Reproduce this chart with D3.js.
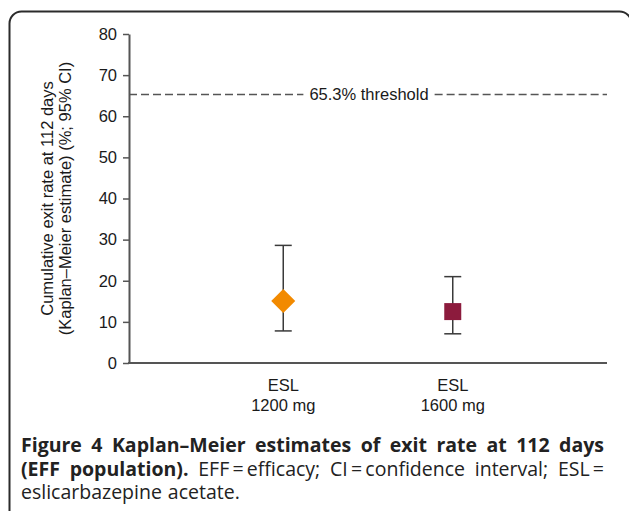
<!DOCTYPE html>
<html>
<head>
<meta charset="utf-8">
<script src="https://cdn.jsdelivr.net/npm/d3@7"></script>
<style>
  body { margin: 0; background: #fff; }
  svg { display: block; }
</style>
</head>
<body>
<script>

// data
var groups = ["ESL 1200 mg", "ESL 1600 mg"];
var groupLines = [["ESL", "1200 mg"], ["ESL", "1600 mg"]];
var estimates = [15.1, 12.5];
var lowerCI = [7.8, 7.1];
var upperCI = [28.6, 21.0];
var markerShapes = ["diamond", "square"];
var markerColors = ["#f28a00", "#8c1b3d"];
var yTicks = [0, 10, 20, 30, 40, 50, 60, 70, 80];
var threshold = 65.3;
var thresholdLabel = "65.3% threshold";
var yTitle = ["Cumulative exit rate at 112 days", "(Kaplan\u2013Meier estimate) (%; 95% CI)"];
var caption = [
  [{t: "Figure 4 Kaplan\u2013Meier estimates of exit rate at 112 days", b: true}],
  [{t: "(EFF population).", b: true}, {t: "EFF\u2009=\u2009efficacy; CI\u2009=\u2009confidence interval; ESL\u2009=", b: false}],
  [{t: "eslicarbazepine acetate.", b: false}]
];

var W = 629, H = 511;
var margin = {top: 34, left: 129, right: 22, bottom: 148};

var svg = d3.select("body").append("svg")
    .attr("width", W)
    .attr("height", H);

// rounded frame around the figure
svg.append("rect")
    .attr("x", 9.5).attr("y", 11.5)
    .attr("width", 622).attr("height", 600)
    .attr("rx", 12).attr("ry", 12)
    .attr("fill", "none")
    .attr("stroke", "#2b2b2b")
    .attr("stroke-width", 2);

var x = d3.scalePoint()
    .domain(groups)
    .range([margin.left, W - margin.right])
    .padding(0.91);

var y = d3.scaleLinear()
    .domain([0, 80])
    .range([H - margin.bottom, margin.top]);

var axisColor = "#555";
var font = "'Liberation Sans', Arial, sans-serif";

// y axis
var yAxis = svg.append("g")
    .attr("transform", "translate(" + margin.left + ",0)")
    .call(d3.axisLeft(y).tickValues(yTicks).tickSize(6).tickPadding(6).tickSizeOuter(0));
yAxis.select(".domain").attr("stroke", axisColor).attr("stroke-width", 2);
yAxis.selectAll(".tick line").attr("stroke", axisColor).attr("stroke-width", 1.5);
yAxis.selectAll(".tick text")
    .attr("fill", "#1a1a1a")
    .style("font-family", font)
    .style("font-size", "16.5px");

// x axis line
svg.append("line")
    .attr("x1", margin.left - 1).attr("x2", W - margin.right)
    .attr("y1", y(0)).attr("y2", y(0))
    .attr("stroke", axisColor)
    .attr("stroke-width", 2);

// category labels
groups.forEach(function(g, i) {
  var t = svg.append("text")
      .attr("x", x(g))
      .attr("y", y(0) + 28)
      .attr("text-anchor", "middle")
      .attr("fill", "#1a1a1a")
      .style("font-family", font)
      .style("font-size", "16.5px");
  groupLines[i].forEach(function(line, j) {
    t.append("tspan")
        .attr("x", x(g))
        .attr("dy", j === 0 ? 0 : 20)
        .text(line);
  });
});

// y axis title
var yt = svg.append("text")
    .attr("transform", "translate(53," + ((y(0) + y(80)) / 2) + ") rotate(-90)")
    .attr("text-anchor", "middle")
    .attr("fill", "#1a1a1a")
    .style("font-family", font)
    .style("font-size", "16.5px");
yTitle.forEach(function(line, j) {
  yt.append("tspan").attr("x", 0).attr("dy", j === 0 ? 0 : 18).text(line);
});

// threshold line with label in the middle
var thY = y(threshold);
var label = svg.append("text")
    .attr("x", 369)
    .attr("y", thY + 6)
    .attr("text-anchor", "middle")
    .attr("fill", "#1a1a1a")
    .style("font-family", font)
    .style("font-size", "16.5px")
    .text(thresholdLabel);
var lb = label.node().getBBox();
[[margin.left, lb.x - 6], [lb.x + lb.width + 6, W - margin.right]].forEach(function(seg) {
  svg.append("line")
      .attr("x1", seg[0]).attr("x2", seg[1])
      .attr("y1", thY).attr("y2", thY)
      .attr("stroke", "#555")
      .attr("stroke-width", 1.5)
      .attr("stroke-dasharray", "8,4");
});

// error bars
var cap = 8.5;
groups.forEach(function(g, i) {
  var cx = x(g);
  svg.append("line")
      .attr("x1", cx).attr("x2", cx)
      .attr("y1", y(lowerCI[i])).attr("y2", y(upperCI[i]))
      .attr("stroke", "#3a3a3a").attr("stroke-width", 1.5);
  [lowerCI[i], upperCI[i]].forEach(function(v) {
    svg.append("line")
        .attr("x1", cx - cap).attr("x2", cx + cap)
        .attr("y1", y(v)).attr("y2", y(v))
        .attr("stroke", "#3a3a3a").attr("stroke-width", 1.5);
  });
});

// point estimates
groups.forEach(function(g, i) {
  var size = 17 * 17;
  var rot = markerShapes[i] === "diamond" ? 45 : 0;
  svg.append("path")
      .attr("d", d3.symbol().type(d3.symbolSquare).size(size)())
      .attr("transform", "translate(" + x(g) + "," + y(estimates[i]) + ") rotate(" + rot + ")")
      .attr("fill", markerColors[i]);
});

// caption: one text block, words justified one by one
var capLeft = 21, capRight = 604, capTop = 452, capStep = 23.5;
var capText = svg.append("text")
    .attr("fill", "#222")
    .style("font-family", "'Open Sans', 'Noto Sans', sans-serif")
    .style("font-size", "19.5px");
caption.forEach(function(segs, li) {
  var words = [];
  segs.forEach(function(s) {
    s.t.split(" ").forEach(function(w) { words.push({t: w, b: s.b}); });
  });
  var spans = words.map(function(w) {
    return capText.append("tspan")
        .attr("y", capTop + li * capStep)
        .style("font-weight", w.b ? 700 : 400)
        .text(w.t);
  });
  var widths = spans.map(function(s) { return s.node().getComputedTextLength(); });
  var last = li === caption.length - 1;
  var gap = last ? 6 : (capRight - capLeft - d3.sum(widths)) / (words.length - 1);
  var cx = capLeft;
  spans.forEach(function(s, k) {
    s.attr("x", cx);
    cx += widths[k] + gap;
  });
});

</script>
</body>
</html>
